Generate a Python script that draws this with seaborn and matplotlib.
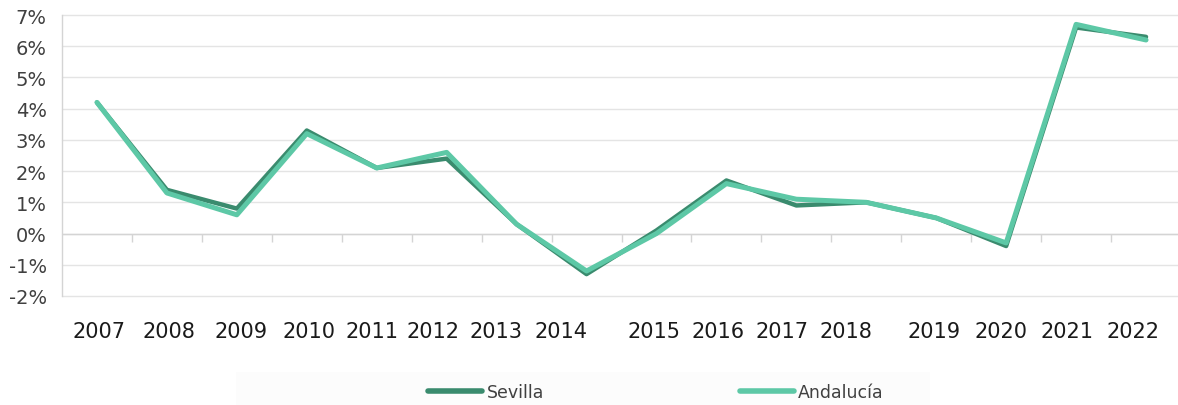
"""Annual % change, Sevilla vs Andalucía, recreated with seaborn."""

import matplotlib.pyplot as plt
import matplotlib.transforms as mtransforms
import numpy as np
import pandas as pd
import seaborn as sns
from matplotlib.lines import Line2D
from matplotlib.patches import Rectangle
from matplotlib.ticker import FuncFormatter, MultipleLocator

YEARS = ["2007", "2008", "2009", "2010", "2011", "2012", "2013", "2014",
         "2015", "2016", "2017", "2018", "2019", "2020", "2021", "2022"]
SEVILLA = [4.2, 1.4, 0.8, 3.3, 2.1, 2.4, 0.3, -1.3, 0.1, 1.7, 0.9, 1.0, 0.5, -0.4, 6.6, 6.3]
ANDALUCIA = [4.2, 1.3, 0.6, 3.2, 2.1, 2.6, 0.3, -1.2, 0.0, 1.6, 1.1, 1.0, 0.5, -0.3, 6.7, 6.2]

DARK = "#3a8b6e"
LIGHT = "#5dc8a6"
GRID = "#e4e4e4"
AXIS = "#d4d4d4"

# the original's year labels drift off their category centre (pixels)
LABEL_SHIFT_PX = [2, 2, 4, 2, -5, -14, -21, -26, -2, -8, -14, -20, -2, -5, -9, -13]

sns.set_theme(style="white")
plt.rcParams.update({"font.family": ["DejaVu Sans"], "figure.facecolor": "white"})

df = pd.DataFrame({"year": YEARS * 2,
                   "value": SEVILLA + ANDALUCIA,
                   "region": ["Sevilla"] * len(YEARS) + ["Andalucía"] * len(YEARS)})

fig = plt.figure(figsize=(11.78, 4.06), dpi=100)
ax = fig.add_axes([62 / 1178, 1 - 297 / 406, (1181 - 62) / 1178, (297 - 16) / 406])

sns.lineplot(data=df[df.region == "Sevilla"], x="year", y="value", color=DARK,
             linewidth=3.2, ax=ax, solid_joinstyle="round", solid_capstyle="round")
sns.lineplot(data=df[df.region == "Andalucía"], x="year", y="value", color=LIGHT,
             linewidth=3.6, ax=ax, solid_joinstyle="round", solid_capstyle="round")

ax.set_xlim(-0.5, len(YEARS) - 0.5)
ax.set_ylim(-2, 7)
ax.yaxis.set_major_locator(MultipleLocator(1))
ax.yaxis.set_major_formatter(FuncFormatter(lambda v, _: f"{v:.0f}%"))
ax.grid(axis="y", color=GRID, linewidth=1)
ax.grid(axis="x", visible=False)
ax.set_axisbelow(True)
for gl in ax.get_ygridlines():
    gl.set_clip_on(False)

for side in ["top", "right", "bottom"]:
    ax.spines[side].set_visible(False)
ax.spines["left"].set_color(AXIS)
ax.spines["left"].set_linewidth(1)

# category axis crossing at 0 with boundary tick marks
ax.axhline(0, color=AXIS, linewidth=1, zorder=1)
bounds = np.arange(len(YEARS)) - 0.5
ax.vlines(bounds[1:], -0.26, 0, color=AXIS, linewidth=1, zorder=1)

ax.set_xlabel("")
ax.set_ylabel("")
ax.tick_params(axis="x", length=0, pad=18, labelsize=15, labelcolor="#1a1a1a")
ax.tick_params(axis="y", length=0, pad=11, labelsize=14, labelcolor="#404040")

for lab, dx in zip(ax.get_xticklabels(), LABEL_SHIFT_PX):
    lab.set_transform(lab.get_transform() + mtransforms.ScaledTranslation(dx / 100, 0, fig.dpi_scale_trans))

# legend with its faint background band
fig.patches.append(Rectangle((236 / 1178, 0), (930 - 236) / 1178, 33 / 406,
                             transform=fig.transFigure, facecolor="#fcfcfc", edgecolor="none", zorder=0))
handles = [Line2D([], [], color=DARK, linewidth=4, solid_capstyle="round"),
           Line2D([], [], color=LIGHT, linewidth=4, solid_capstyle="round")]
fig.legend(handles, ["Sevilla", "Andalucía"], loc="center", bbox_to_anchor=(656 / 1178, 1 - 393 / 406),
           ncol=2, frameon=False, fontsize=12.5, labelcolor="#404040", handlelength=3.1,
           handletextpad=0.25, columnspacing=11.3)

fig.savefig("out.png", dpi=100)
